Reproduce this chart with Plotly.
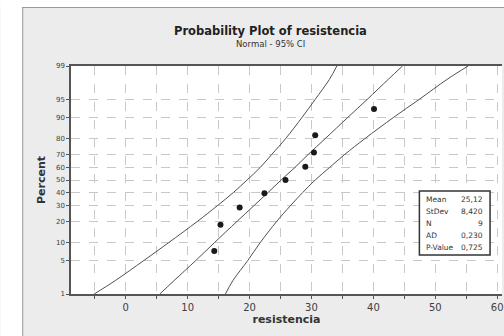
import math
import plotly.graph_objects as go

# ---- data ----
resistencia = [14.3, 15.3, 18.4, 22.4, 25.8, 29.0, 30.4, 30.6, 40.1]
percent_pts = [7.4, 18.1, 28.7, 39.4, 50.0, 60.6, 71.3, 81.9, 92.6]

band_pct = [1, 2, 5, 10, 20, 30, 40, 50, 60, 70, 80, 90, 95, 98, 99]
fit_x    = [5.5, 7.8, 11.3, 14.3, 18.0, 20.7, 23.0, 25.1, 27.3, 29.5, 32.2, 35.9, 39.0, 42.4, 44.7]
ci_left  = [-5.1, -1.7, 2.9, 6.9, 11.6, 14.8, 17.4, 19.6, 21.7, 23.6, 25.8, 28.5, 30.6, 32.9, 34.1]
ci_right = [16.1, 17.3, 19.7, 21.7, 24.4, 26.6, 28.6, 30.6, 32.9, 35.4, 38.6, 43.3, 47.4, 51.9, 55.3]

y_ticks = [1, 5, 10, 20, 30, 40, 50, 60, 70, 80, 90, 95, 99]
x_ticks = [-5, 0, 5, 10, 15, 20, 25, 30, 35, 40, 45, 50, 55, 60]

stat_labels = ["Mean", "StDev", "N", "AD", "P-Value"]
stat_values = ["25,12", "8,420", "9", "0,230", "0,725"]


def z_of(p):
    """Normal quantile for percent p (probability axis scale)."""
    q = p / 100.0
    lo, hi = -10.0, 10.0
    for _ in range(100):
        mid = (lo + hi) / 2
        if 0.5 * (1 + math.erf(mid / math.sqrt(2))) < q:
            lo = mid
        else:
            hi = mid
    return (lo + hi) / 2


W, H = 504, 336
L, T, B, R = 71, 66, 42, 0
pw, ph = W - L - R, H - T - B

def px(x):
    return (x - L) / pw

def py(y):
    return 1 - (y - T) / ph

font = "DejaVu Sans"
fig = go.Figure()

line_style = dict(color="#505050", width=1, shape="spline")
fig.add_trace(go.Scatter(x=ci_left, y=[z_of(p) for p in band_pct], mode="lines",
                         line=line_style, hoverinfo="skip"))
fig.add_trace(go.Scatter(x=fit_x, y=[z_of(p) for p in band_pct], mode="lines",
                         line=line_style, hoverinfo="skip"))
fig.add_trace(go.Scatter(x=ci_right, y=[z_of(p) for p in band_pct], mode="lines",
                         line=line_style, hoverinfo="skip"))
fig.add_trace(go.Scatter(x=resistencia, y=[z_of(p) for p in percent_pts], mode="markers",
                         marker=dict(color="#1a1a1a", size=6)))

fig.update_layout(
    width=W, height=H, showlegend=False,
    margin=dict(l=L, r=R, t=T, b=B),
    paper_bgcolor="#ececec", plot_bgcolor="white",
    font=dict(family=font, color="#333333"),
    xaxis=dict(range=[-8.84, 60.77], tickvals=x_ticks,
               ticktext=[str(v) if v % 10 == 0 else "" for v in x_ticks],
               ticklabeloverflow="allow",
               showgrid=True, gridcolor="#c8c8c8", griddash="dash", gridwidth=1,
               zeroline=False, showline=True, linecolor="#555555", linewidth=1.5,
               mirror=True, ticks="outside", ticklen=3, tickcolor="#555555",
               tickfont=dict(size=10, color="#404040"),
               title=dict(text="<b>resistencia</b>", font=dict(size=11, color="#333333"), standoff=4)),
    yaxis=dict(range=[z_of(1), z_of(99)], tickvals=[z_of(p) for p in y_ticks],
               ticktext=[str(p) for p in y_ticks],
               showgrid=True, gridcolor="#c8c8c8", griddash="dash", gridwidth=1,
               zeroline=False, showline=True, linecolor="#555555", linewidth=1.5,
               ticks="outside", ticklen=3, tickcolor="#555555",
               tickfont=dict(size=7, color="#404040"),
               title=dict(text="<b>Percent</b>", font=dict(size=11, color="#333333"), standoff=8)),
)

# white surround and panel border (image crop)
fig.add_shape(type="rect", xref="paper", yref="paper", x0=px(0), x1=px(22), y0=py(H + 5), y1=py(-5),
              fillcolor="white", line=dict(width=0), layer="above")
fig.add_shape(type="rect", xref="paper", yref="paper", x0=px(0), x1=px(W + 5), y0=py(7), y1=py(-5),
              fillcolor="white", line=dict(width=0), layer="above")
fig.add_shape(type="line", xref="paper", yref="paper", x0=px(22.5), x1=px(22.5), y0=py(7), y1=py(H + 5),
              line=dict(color="#9a9a9a", width=1))
fig.add_shape(type="line", xref="paper", yref="paper", x0=px(22), x1=px(W + 5), y0=py(7.5), y1=py(7.5),
              line=dict(color="#9a9a9a", width=1))

# titles
fig.add_annotation(x=px(271), y=py(31), xref="paper", yref="paper", showarrow=False,
                   xanchor="center", yanchor="middle",
                   text="<b>Probability Plot of resistencia</b>", font=dict(size=11.5, color="#222222"))
fig.add_annotation(x=px(271), y=py(44), xref="paper", yref="paper", showarrow=False,
                   xanchor="center", yanchor="middle",
                   text="Normal - 95% CI", font=dict(size=8.5, color="#333333"))

# stats box
bx0, bx1, by0, by1 = 421, 492, 191, 255
fig.add_shape(type="rect", xref="paper", yref="paper", x0=px(bx0), x1=px(bx1), y0=py(by1), y1=py(by0),
              fillcolor="white", line=dict(color="#333333", width=1.5), layer="above")
for i, (lab, val) in enumerate(zip(stat_labels, stat_values)):
    yy = py(199 + i * 12.2)
    fig.add_annotation(x=px(426), y=yy, xref="paper", yref="paper", showarrow=False,
                       xanchor="left", yanchor="middle", text=lab, font=dict(size=7.5, color="#333333"))
    fig.add_annotation(x=px(487), y=yy, xref="paper", yref="paper", showarrow=False,
                       xanchor="right", yanchor="middle", text=val, font=dict(size=7.5, color="#333333"))

fig.write_html("out.html")
